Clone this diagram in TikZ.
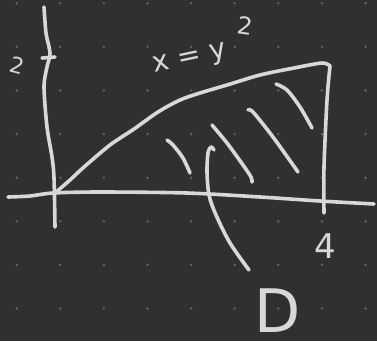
\documentclass[tikz,border=0pt]{standalone}
\usepackage{fontspec}
\setmainfont{DejaVu Sans}
\definecolor{bg}{HTML}{303030}
\definecolor{dotc}{HTML}{666666}
\definecolor{ink}{HTML}{D8D8D8}
\begin{document}
\begin{tikzpicture}[x=1pt,y=-1pt,
  pen/.style={draw=ink,line width=3.6pt,line cap=round,line join=round},
  lbl/.style={text=ink,inner sep=0pt,font=#1},
  lbl/.default=\fontsize{24}{26}\selectfont]
\fill[bg] (0,0) rectangle (377,341);
\useasboundingbox (0,0) rectangle (377,341);
% dot grid
\foreach \i in {0,...,8}{
  \foreach \j in {0,...,7}{
    \fill[dotc] ({16.7+43.6*\i},{3.3+43.6*\j}) circle (1.3);
  }
}
% y axis
\draw[pen] plot[smooth] coordinates {(44,7) (46,33) (50,53) (47,67) (44,87) (47,127) (52,157) (54,178) (55,227)};
\draw[pen] (42,58) -- (55,57);
% x axis
\draw[pen] plot[smooth] coordinates {(8,197) (30,196) (53,193) (100,192) (187,193) (260,197) (320,201) (374,204)};
% curve x = y^2
\draw[pen] plot[smooth] coordinates {(55,193) (70,180) (84,167) (110,145) (134,129) (158,112) (180,100) (200,93) (227,85) (260,75) (294,68) (322,63) (330,66)};
% right boundary x = 4
\draw[pen] plot[smooth] coordinates {(330,66) (327,100) (324,167) (324,213)};
% hatching
\draw[pen] plot[smooth] coordinates {(167,140) (173,145) (183,158) (190,173)};
\draw[pen] plot[smooth] coordinates {(212,125) (227,143) (243,165) (251,177) (252,182)};
\draw[pen] plot[smooth] coordinates {(248,110) (253,112) (273,137) (298,172)};
\draw[pen] plot[smooth] coordinates {(276,84) (287,90) (300,107) (312,128)};
% labels
\node[lbl={\fontsize{22}{24}\selectfont},rotate=-15] (ylab) at (17,65) {2};
\node[lbl={\fontsize{28}{30}\selectfont},rotate=12] (eq) at (190,60) {x = y};
\node[lbl={\fontsize{24}{26}\selectfont},rotate=-8] (sup) at (245,26) {2};
\node[lbl={\fontsize{34}{36}\selectfont},anchor=base] (four) at (325,258) {4};
\node[lbl={\fontsize{60}{62}\selectfont},anchor=base] (D) at (278,332) {D};
% pointer to D
\coordinate (ptop) at (214,150);
\coordinate (pend) at (249,270);
\draw[pen] plot[smooth] coordinates {(ptop) (211,147) (208,153) (207,172) (209,195) (216,215) (230,243) (pend)};
\end{tikzpicture}
\end{document}
